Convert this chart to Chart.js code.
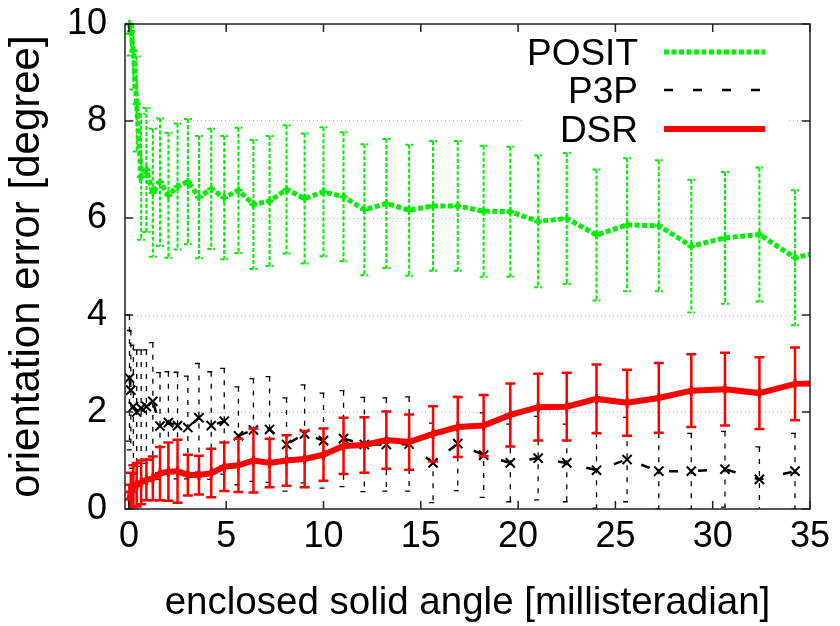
<!DOCTYPE html>
<html>
<head>
<meta charset="utf-8">
<script src="https://cdn.jsdelivr.net/npm/chart.js@4/dist/chart.umd.min.js"></script>
<style>
  body { margin: 0; background: #fff; }
</style>
</head>
<body>
<canvas id="errorChart" width="840" height="626"></canvas>
<script>
// x positions of the measurements (millisteradian)
const solidAngle = [0.03, 0.1, 0.23, 0.4, 0.63, 0.9, 1.23, 1.6, 2.03, 2.5, 3.03, 3.6, 4.23, 4.9, 5.63, 6.4, 7.23, 8.1, 9.03, 10.0,
    11.03, 12.1, 13.23, 14.4, 15.63, 16.9, 18.23, 19.6, 21.03, 22.5, 24.03, 25.6, 27.23, 28.9, 30.63, 32.4, 34.23, 36.1];

const positMean = [10.0, 9.85, 9.45, 8.35, 6.85, 6.99, 6.52, 6.74, 6.47, 6.65, 6.75, 6.43, 6.6, 6.42, 6.57, 6.28, 6.35, 6.59, 6.4, 6.54,
    6.44, 6.17, 6.3, 6.16, 6.25, 6.25, 6.14, 6.13, 5.93, 5.99, 5.65, 5.86, 5.84, 5.42, 5.59, 5.66, 5.18, 5.35];
const positStd = [0.2, 0.5, 0.8, 0.98, 1.3, 1.28, 1.32, 1.31, 1.29, 1.3, 1.29, 1.26, 1.24, 1.27, 1.29, 1.33, 1.34, 1.32, 1.34, 1.33,
    1.33, 1.35, 1.33, 1.35, 1.34, 1.34, 1.35, 1.34, 1.36, 1.35, 1.35, 1.37, 1.35, 1.37, 1.36, 1.38, 1.39, 1.39];

const p3pMean = [2.7, 2.45, 2.11, 2.0, 2.08, 2.11, 2.22, 1.71, 1.78, 1.72, 1.68, 1.88, 1.72, 1.81, 1.51, 1.63, 1.64, 1.33, 1.55, 1.41,
    1.45, 1.33, 1.33, 1.34, 0.95, 1.35, 1.11, 0.95, 1.05, 0.95, 0.8, 1.02, 0.78, 0.78, 0.82, 0.61, 0.78, 0.8];
const p3pStd = [1.3, 1.23, 1.27, 1.28, 1.2, 1.17, 1.21, 1.1, 1.05, 1.1, 1.06, 1.12, 1.11, 1.09, 1.01, 1.06, 1.09, 0.96, 1.01, 0.98,
    0.99, 0.97, 0.96, 0.97, 0.82, 0.97, 0.87, 0.8, 0.86, 0.8, 0.78, 0.87, 0.78, 0.78, 0.78, 0.67, 0.78, 0.78];

const dsrMean = [0.2, 0.35, 0.45, 0.5, 0.55, 0.6, 0.63, 0.73, 0.77, 0.78, 0.7, 0.7, 0.74, 0.87, 0.9, 1.0, 0.95, 1.0, 1.03, 1.12,
    1.3, 1.32, 1.42, 1.38, 1.55, 1.69, 1.72, 1.94, 2.1, 2.11, 2.27, 2.19, 2.29, 2.44, 2.47, 2.39, 2.58, 2.6];
const dsrStd = [0.3, 0.4, 0.45, 0.45, 0.45, 0.42, 0.45, 0.55, 0.6, 0.65, 0.42, 0.4, 0.5, 0.5, 0.55, 0.66, 0.5, 0.52, 0.58, 0.54,
    0.58, 0.57, 0.59, 0.57, 0.57, 0.62, 0.63, 0.65, 0.69, 0.7, 0.71, 0.68, 0.72, 0.75, 0.75, 0.74, 0.75, 0.75];

const xTicks = [0, 5, 10, 15, 20, 25, 30, 35];
const yTicks = [0, 2, 4, 6, 8, 10];
const seriesNames = ['POSIT', 'P3P', 'DSR'];

const FONT = "'Liberation Sans', Arial, Helvetica, sans-serif";

function points(mean) {
    return solidAngle.map((x, i) => ({ x: x, y: mean[i] }));
}

// error bar look per dataset index
const barStyles = [
    { std: positStd, color: '#00ee00', width: 2, dash: [4, 2], cap: 4 },
    { std: p3pStd, color: '#000000', width: 1.3, dash: [5, 7], cap: 4 },
    { std: dsrStd, color: '#ff0000', width: 2.5, dash: [], cap: 5 }
];

const errorBars = {
    id: 'errorBars',
    beforeDatasetDraw(chart, args) {
        const st = barStyles[args.index];
        if (!st) return;
        const ctx = chart.ctx;
        const area = chart.chartArea;
        const xs = chart.scales.x, ys = chart.scales.y;
        const data = chart.data.datasets[args.index].data;
        ctx.save();
        ctx.beginPath();
        ctx.rect(area.left, area.top, area.right - area.left, area.bottom - area.top);
        ctx.clip();
        ctx.strokeStyle = st.color;
        ctx.lineWidth = st.width;
        ctx.setLineDash(st.dash);
        data.forEach((p, i) => {
            const px = xs.getPixelForValue(p.x);
            const top = ys.getPixelForValue(p.y + st.std[i]);
            const bot = ys.getPixelForValue(p.y - st.std[i]);
            ctx.beginPath();
            ctx.moveTo(px, top);
            ctx.lineTo(px, bot);
            ctx.moveTo(px - st.cap, top);
            ctx.lineTo(px + st.cap, top);
            ctx.moveTo(px - st.cap, bot);
            ctx.lineTo(px + st.cap, bot);
            ctx.stroke();
        });
        ctx.restore();
    }
};

// gnuplot-like key, border and inward ticks
const frame = {
    id: 'frame',
    afterDraw(chart) {
        const ctx = chart.ctx;
        const a = chart.chartArea;
        const xs = chart.scales.x, ys = chart.scales.y;

        // key
        ctx.save();
        ctx.fillStyle = '#fff';
        ctx.fillRect(523, a.top + 2, 264, 122);
        ctx.font = '37px ' + FONT;
        ctx.fillStyle = '#000';
        ctx.textAlign = 'right';
        ctx.textBaseline = 'alphabetic';
        const rows = [65, 103, 142];
        const ds = chart.data.datasets;
        rows.forEach((yb, i) => {
            ctx.fillText(seriesNames[i], 638, yb);
            const ly = yb - 13;
            ctx.beginPath();
            ctx.strokeStyle = ds[i].borderColor;
            ctx.lineWidth = ds[i].borderWidth;
            ctx.setLineDash(ds[i].borderDash || []);
            ctx.moveTo(664, ly);
            ctx.lineTo(765, ly);
            ctx.stroke();
        });
        ctx.restore();

        // border
        ctx.save();
        ctx.strokeStyle = '#222';
        ctx.lineWidth = 1.5;
        ctx.strokeRect(a.left, a.top, a.right - a.left, a.bottom - a.top);
        ctx.beginPath();
        xTicks.forEach(v => {
            const px = xs.getPixelForValue(v);
            ctx.moveTo(px, a.bottom);
            ctx.lineTo(px, a.bottom - 8);
            ctx.moveTo(px, a.top);
            ctx.lineTo(px, a.top + 8);
        });
        yTicks.forEach(v => {
            const py = ys.getPixelForValue(v);
            ctx.moveTo(a.left, py);
            ctx.lineTo(a.left + 8, py);
            ctx.moveTo(a.right, py);
            ctx.lineTo(a.right - 8, py);
        });
        ctx.stroke();
        ctx.restore();
    }
};

const ctx = document.getElementById('errorChart').getContext('2d');

new Chart(ctx, {
    type: 'line',
    data: {
        datasets: [
            {
                label: 'POSIT',
                data: points(positMean),
                borderColor: '#00ee00',
                backgroundColor: '#00ee00',
                borderWidth: 5,
                borderDash: [5, 2.5],
                pointStyle: 'cross',
                pointRadius: 4,
                pointBorderWidth: 2.5,
                order: 3,
                clip: { left: 0, right: 0, top: 6, bottom: 6 }
            },
            {
                label: 'P3P',
                data: points(p3pMean),
                borderColor: '#000000',
                backgroundColor: '#000000',
                borderWidth: 2.5,
                borderDash: [9, 20],
                pointStyle: 'crossRot',
                pointRadius: 6.5,
                pointBorderWidth: 2,
                order: 2,
                clip: { left: 0, right: 0, top: 6, bottom: 6 }
            },
            {
                label: 'DSR',
                data: points(dsrMean),
                borderColor: '#ff0000',
                backgroundColor: '#ff0000',
                borderWidth: 6,
                pointStyle: 'cross',
                pointRadius: 5,
                pointBorderWidth: 3,
                order: 1,
                clip: { left: 0, right: 0, top: 6, bottom: 6 }
            }
        ]
    },
    options: {
        responsive: false,
        animation: false,
        devicePixelRatio: 1,
        layout: { padding: { top: 24, right: 30, left: 0, bottom: 0 } },
        plugins: { legend: { display: false }, tooltip: { enabled: false } },
        scales: {
            x: {
                type: 'linear',
                min: -0.2,
                max: 35,
                afterBuildTicks: s => { s.ticks = xTicks.map(v => ({ value: v })); },
                afterFit: s => { s.height = 117; s.paddingLeft = 0; s.paddingRight = 0; },
                grid: { display: false, drawTicks: false },
                border: { display: false },
                ticks: { color: '#000', font: { family: FONT, size: 36 }, padding: 6, maxRotation: 0 },
                title: {
                    display: true,
                    text: 'enclosed solid angle [millisteradian]',
                    color: '#000',
                    font: { family: FONT, size: 38.5 },
                    padding: { top: 0, bottom: 0 }
                }
            },
            y: {
                min: 0,
                max: 10,
                afterBuildTicks: s => { s.ticks = yTicks.map(v => ({ value: v })); },
                afterFit: s => { s.width = 125; s.paddingTop = 0; s.paddingBottom = 0; },
                grid: { color: '#b0b0b0', lineWidth: 1, drawTicks: false },
                border: { display: false, dash: [1, 3] },
                ticks: { color: '#000', font: { family: FONT, size: 36 }, padding: 18 },
                title: {
                    display: true,
                    text: 'orientation error [degree]',
                    color: '#000',
                    font: { family: FONT, size: 42 },
                    padding: { top: 2, bottom: 0 }
                }
            }
        }
    },
    plugins: [errorBars, frame]
});
</script>
</body>
</html>
